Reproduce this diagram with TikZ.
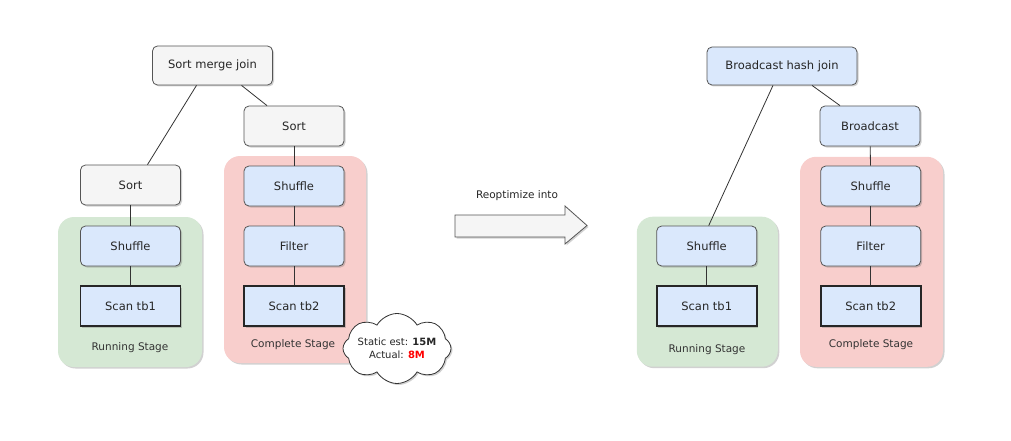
\documentclass[tikz,border=0pt]{standalone}
\usepackage{fontspec}
\setmainfont{DejaVu Sans}
\usetikzlibrary{shapes.symbols,shadows,calc}
\definecolor{grayFill}{HTML}{F5F5F5}
\definecolor{blueFill}{HTML}{DAE8FC}
\definecolor{greenFill}{HTML}{D5E8D4}
\definecolor{redFill}{HTML}{F8CECC}
\definecolor{edgeCol}{HTML}{333333}
\definecolor{boxLine}{HTML}{555555}
\definecolor{labelCol}{HTML}{333333}
\begin{document}
\begin{tikzpicture}[x=1pt,y=-1pt,
  font=\fontsize{11.5}{13}\selectfont,
  shad/.style={drop shadow={shadow xshift=1.5pt,shadow yshift=-1.5pt,opacity=0.3,fill=black!60}},
  graybox/.style={draw=boxLine, fill=grayFill, rounded corners=5pt, minimum width=100pt, minimum height=40pt, shad, line width=0.8pt, text=black!85},
  bluebox/.style={graybox, fill=blueFill},
  scanbox/.style={draw=black!85, fill=blueFill, line width=1.8pt, minimum width=100pt, minimum height=40pt, shad, text=black!85},
  stage/.style={rounded corners=16pt, shad, draw=none},
  small/.style={font=\fontsize{10.5}{11}\selectfont},
  stagelabel/.style={small, text=labelCol},
  link/.style={draw=edgeCol, line width=0.8pt}]
\useasboundingbox (0,0) rectangle (1011,441);

% ---------- left plan ----------
\node (stageL1) [stage, fill=greenFill, minimum width=144pt, minimum height=150pt] at (130,292) {};
\node (stageL2) [stage, fill=redFill, minimum width=142pt, minimum height=207pt] at (295,259.5) {};
\node (lblL1) [stagelabel] at (130,348) {Running Stage};
\node (lblL2) [stagelabel] at (293,345) {Complete Stage};

\node (smj) [graybox, minimum width=120pt, minimum height=39pt] at (212.5,65.5) {Sort merge join};
\node (sortR) [graybox] at (294,126) {Sort};
\node (sortL) [graybox] at (130.5,185) {Sort};
\node (shufL) [bluebox] at (130.5,246) {Shuffle};
\node (scanL) [scanbox] at (130.5,306) {Scan tb1};
\node (shufR) [bluebox] at (294,186) {Shuffle};
\node (filtR) [bluebox] at (294,246) {Filter};
\node (scanR) [scanbox] at (294,306) {Scan tb2};

\draw[link] ([xshift=-16pt]smj.south) -- ([xshift=17pt]sortL.north);
\draw[link] ([xshift=29pt]smj.south) -- ([xshift=-27pt]sortR.north);
\draw[link] (sortL) -- (shufL);
\draw[link] (shufL) -- (scanL);
\draw[link] (sortR) -- (shufR);
\draw[link] (shufR) -- (filtR);
\draw[link] (filtR) -- (scanR);

\node (cloud) [cloud, cloud puffs=8, cloud puff arc=120, cloud ignores aspect, draw=black!80, line width=0.8pt, fill=white, shad, minimum width=108pt, minimum height=70pt, inner sep=0pt] at (397,348.5) {};
\node (cloudtxt) [font=\fontsize{10}{13.5}\selectfont, align=center, inner sep=0pt, text=black!85] at (cloud.center) {Static est: \textbf{15M}\\Actual: \textcolor{red}{\textbf{8M}}};

% ---------- arrow ----------
\node (reopt) [small, text=black!85] at (517,196) {Reoptimize into};
\filldraw[draw=boxLine, fill=grayFill, line width=0.8pt, shad]
  (455,215) -- (565,215) -- (565,206) -- (587,225.5) -- (565,244) -- (565,237) -- (455,237) -- cycle;

% ---------- right plan ----------
\node (stageR1) [stage, fill=greenFill, minimum width=141pt, minimum height=150pt] at (707.3,291.7) {};
\node (stageR2) [stage, fill=redFill, minimum width=143pt, minimum height=210pt] at (871.5,261.8) {};
\node (lblR1) [stagelabel] at (707,350) {Running Stage};
\node (lblR2) [stagelabel] at (871,345) {Complete Stage};

\node (bhj) [bluebox, minimum width=150pt, minimum height=38pt] at (782,66) {Broadcast hash join};
\node (bcast) [bluebox] at (870,126) {Broadcast};
\node (shufL2) [bluebox] at (706.7,246) {Shuffle};
\node (scanL2) [scanbox] at (706.7,306) {Scan tb1};
\node (shufR2) [bluebox] at (870.7,186) {Shuffle};
\node (filtR2) [bluebox] at (870.7,246) {Filter};
\node (scanR2) [scanbox] at (870.7,306) {Scan tb2};

\draw[link] ([xshift=-9pt]bhj.south) -- ([xshift=2pt]shufL2.north);
\draw[link] ([xshift=30pt]bhj.south) -- ([xshift=-30pt]bcast.north);
\draw[link] (shufL2) -- (scanL2);
\draw[link] (bcast) -- (shufR2);
\draw[link] (shufR2) -- (filtR2);
\draw[link] (filtR2) -- (scanR2);
\end{tikzpicture}
\end{document}
